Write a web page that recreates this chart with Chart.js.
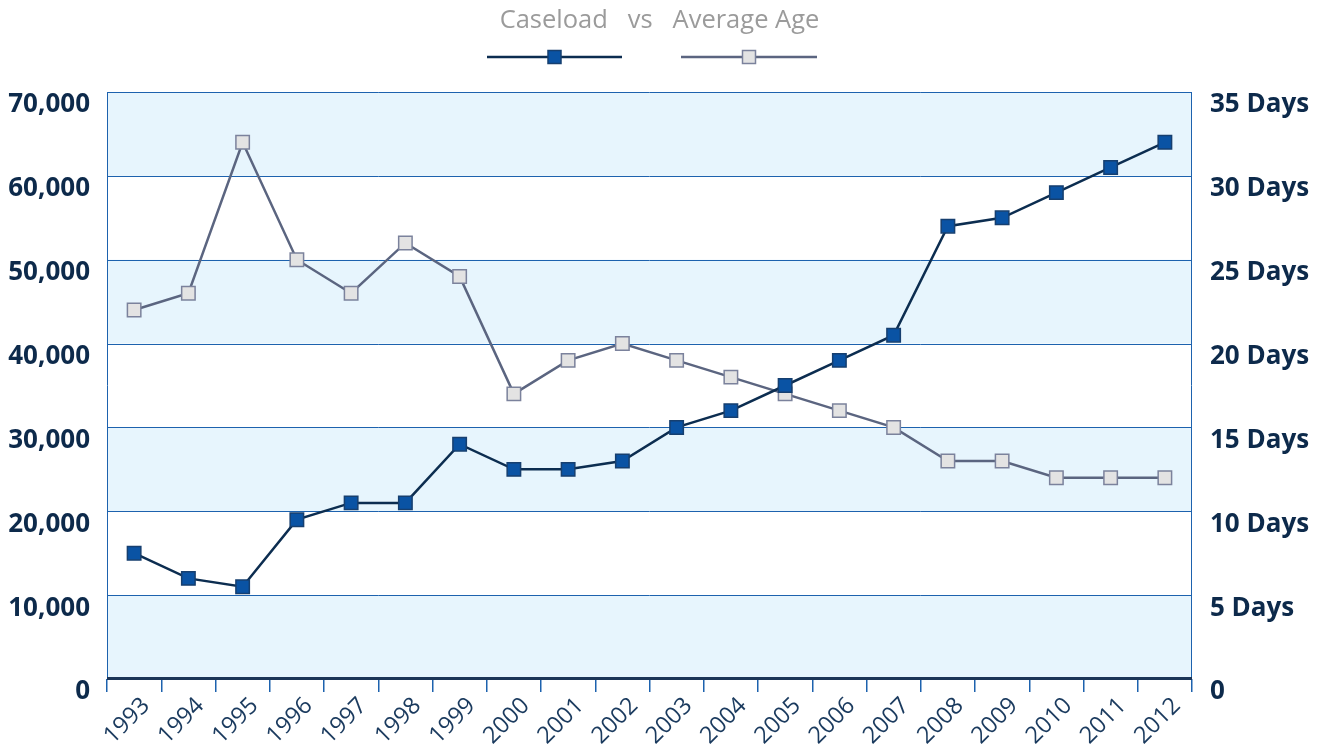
<!DOCTYPE html>
<html>
<head>
<meta charset="utf-8">
<script src="https://cdn.jsdelivr.net/npm/chart.js@4.4.1/dist/chart.umd.min.js"></script>
<style>
  html, body { margin: 0; padding: 0; background: #ffffff; }
  #wrap { width: 1319px; height: 748px; position: relative; }
</style>
</head>
<body>
<div id="wrap"><canvas id="c" width="1319" height="748"></canvas></div>
<script>
const years = ['1993','1994','1995','1996','1997','1998','1999','2000','2001','2002','2003','2004','2005','2006','2007','2008','2009','2010','2011','2012'];
const caseload = [15000,12000,11000,19000,21000,21000,28000,25000,25000,26000,30000,32000,35000,38000,41000,54000,55000,58000,61000,64000];
const averageAge = [22,23,32,25,23,26,24,17,19,20,19,18,17,16,15,13,13,12,12,12];
const titleText = 'Caseload   vs   Average Age';

const GRID_BLUE = '#1d62ae';
const BAND = '#e7f5fd';

const bandsPlugin = {
  id: 'bands',
  beforeDatasetsDraw(chart) {
    const {ctx, chartArea, scales} = chart;
    const y = scales.y;
    ctx.save();
    for (let v = 0; v < 70000; v += 20000) {
      const top = y.getPixelForValue(v + 10000);
      const bot = y.getPixelForValue(v);
      ctx.fillStyle = BAND;
      ctx.fillRect(chartArea.left, top, chartArea.right - chartArea.left, bot - top);
    }
    ctx.strokeStyle = GRID_BLUE;
    ctx.lineWidth = 1;
    for (let v = 10000; v <= 70000; v += 10000) {
      const py = Math.round(y.getPixelForValue(v)) + 0.5;
      ctx.beginPath();
      ctx.moveTo(chartArea.left, py);
      ctx.lineTo(chartArea.right, py);
      ctx.stroke();
    }
    ctx.beginPath();
    ctx.moveTo(chartArea.left + 0.5, chartArea.top);
    ctx.lineTo(chartArea.left + 0.5, chartArea.bottom);
    ctx.moveTo(chartArea.right - 0.5, chartArea.top);
    ctx.lineTo(chartArea.right - 0.5, chartArea.bottom);
    ctx.stroke();
    ctx.strokeStyle = '#1b3557';
    ctx.lineWidth = 3;
    ctx.beginPath();
    ctx.moveTo(chartArea.left, chartArea.bottom - 0.5);
    ctx.lineTo(chartArea.right, chartArea.bottom - 0.5);
    ctx.stroke();
    ctx.restore();
  }
};

const legendPlugin = {
  id: 'lineLegend',
  afterDraw(chart) {
    const ctx = chart.ctx;
    const items = [
      {x1: 487, x2: 622, ds: chart.data.datasets[0]},
      {x1: 681, x2: 817, ds: chart.data.datasets[1]}
    ];
    const yy = 57;
    ctx.save();
    items.forEach(it => {
      ctx.strokeStyle = it.ds.borderColor;
      ctx.lineWidth = 2.5;
      ctx.beginPath();
      ctx.moveTo(it.x1, yy);
      ctx.lineTo(it.x2, yy);
      ctx.stroke();
      const cx = (it.x1 + it.x2) / 2;
      const s = 13;
      ctx.fillStyle = it.ds.pointBackgroundColor;
      ctx.strokeStyle = it.ds.pointBorderColor;
      ctx.lineWidth = 1.5;
      ctx.fillRect(cx - s/2, yy - s/2, s, s);
      ctx.strokeRect(cx - s/2, yy - s/2, s, s);
    });
    ctx.restore();
  }
};

new Chart(document.getElementById('c'), {
  type: 'line',
  data: {
    labels: years,
    datasets: [
      {
        label: 'Caseload',
        data: caseload,
        yAxisID: 'y',
        borderColor: '#0c2d50',
        borderWidth: 2.5,
        pointStyle: 'rect',
        pointRadius: 9.5,
        pointBackgroundColor: '#0a53a4',
        pointBorderColor: '#163f6f',
        pointBorderWidth: 1.5,
        tension: 0,
        order: 1
      },
      {
        label: 'Average Age',
        data: averageAge,
        yAxisID: 'y2',
        borderColor: '#5b6580',
        borderWidth: 2.5,
        pointStyle: 'rect',
        pointRadius: 9.5,
        pointBackgroundColor: '#e3e3e3',
        pointBorderColor: '#7b829c',
        pointBorderWidth: 1.5,
        tension: 0,
        order: 2
      }
    ]
  },
  options: {
    responsive: false,
    animation: false,
    layout: { padding: 0 },
    plugins: {
      legend: { display: false },
      tooltip: { enabled: false },
      title: {
        display: true,
        text: titleText,
        color: '#9b9b9b',
        font: { family: 'Open Sans', size: 25.5, weight: '400', lineHeight: 1.2 },
        padding: { top: 5, bottom: 56.4 }
      }
    },
    scales: {
      x: {
        type: 'category',
        offset: true,
        grid: { display: true, offset: true, drawOnChartArea: false, drawTicks: true, tickLength: 13, color: GRID_BLUE, lineWidth: 1.5 },
        border: { display: false },
        ticks: {
          color: '#1a3a5e',
          font: { family: 'Open Sans', size: 23.5, weight: '400' },
          minRotation: 45, maxRotation: 45,
          padding: 0,
          labelOffset: 12,
          autoSkip: false
        },
        afterFit(scale) { scale.height = 69; }
      },
      y: {
        position: 'left',
        min: 0, max: 70000,
        grid: { display: false, drawTicks: false },
        border: { display: false },
        ticks: {
          stepSize: 10000,
          color: '#0d2a4b',
          font: { family: 'Open Sans', size: 26, weight: '700' },
          padding: 17,
          labelOffset: 13,
          callback: (v) => v.toLocaleString('en-US')
        },
        afterFit(scale) { scale.width = 107; }
      },
      y2: {
        position: 'right',
        min: 0, max: 35,
        grid: { display: false, drawTicks: false },
        border: { display: false },
        ticks: {
          stepSize: 5,
          color: '#0d2a4b',
          font: { family: 'Open Sans', size: 26, weight: '700' },
          padding: 18,
          labelOffset: 13,
          callback: (v) => v === 0 ? '0' : v + ' Days'
        },
        afterFit(scale) { scale.width = 127; }
      }
    }
  },
  plugins: [bandsPlugin, legendPlugin]
});
</script>
</body>
</html>
